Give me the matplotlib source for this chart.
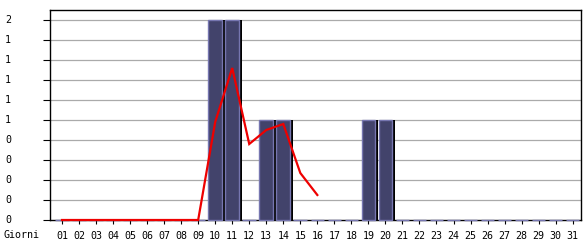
import matplotlib
matplotlib.use("Agg")
import matplotlib.pyplot as plt
from matplotlib.transforms import blended_transform_factory

days = list(range(1, 32))
day_labels = [f"{d:02d}" for d in days]
bar_values = [0, 0, 0, 0, 0, 0, 0, 0, 0, 2, 2, 0, 1, 1, 0, 0, 0, 0, 1, 1,
              0, 0, 0, 0, 0, 0, 0, 0, 0, 0, 0]
line_days = [1, 2, 3, 4, 5, 6, 7, 8, 9, 10, 11, 12, 13, 14, 15, 16]
line_values = [0, 0, 0, 0, 0, 0, 0, 0, 0, 0.98, 1.52, 0.76, 0.90, 0.96, 0.47, 0.25]
y_ticks = [0.0, 0.2, 0.4, 0.6, 0.8, 1.0, 1.2, 1.4, 1.6, 1.8, 2.0]
y_labels = ["0", "0", "0", "0", "0", "1", "1", "1", "1", "1", "2"]
x_title = "Giorni"

W, H = 585, 240
fig = plt.figure(figsize=(W / 100, H / 100), dpi=100)
ax = fig.add_axes([50 / W, 20 / H, 531 / W, 210 / H])
ax.set_xlim(0.295, 31.49)
ax.set_ylim(0, 2.1)

font = dict(family="DejaVu Sans Mono", size=7.2, color="black")

# gridlines
for y in y_ticks[1:]:
    ax.axhline(y, color="#aaaaaa", lw=0.9, zorder=0.5)

# shadow bars
bw = 0.80
shift = 3.2 / 17.02
ax.bar([d + shift for d in days], bar_values, width=bw, color="black",
       linewidth=0, zorder=2, clip_on=False)
ax.bar(days, bar_values, width=bw, color="#42436b", edgecolor="#7676b0",
       linewidth=1.0, zorder=3, clip_on=False)

ax.plot(line_days, line_values, color="#ee0000", lw=1.6, zorder=4,
        clip_on=False, solid_joinstyle="miter")

for s in ax.spines.values():
    s.set_color("black")
    s.set_linewidth(1.0)
    s.set_zorder(2.5)

ax.set_xticks(days)
ax.set_xticklabels(day_labels, **font)
ax.tick_params(axis="x", length=3, width=0.8, pad=5)
ax.set_yticks(y_ticks)
ax.set_yticklabels([])
ax.tick_params(axis="y", length=5, width=0.8)

trans = blended_transform_factory(fig.transFigure, ax.transData)
for y, lab in zip(y_ticks, y_labels):
    ax.text(5 / W, y, lab, transform=trans, ha="left", va="center", **font)
fig.text(3 / W, 1 - 234.5 / H, x_title, ha="left", va="center", **font)

fig.savefig("out.png", dpi=100)
